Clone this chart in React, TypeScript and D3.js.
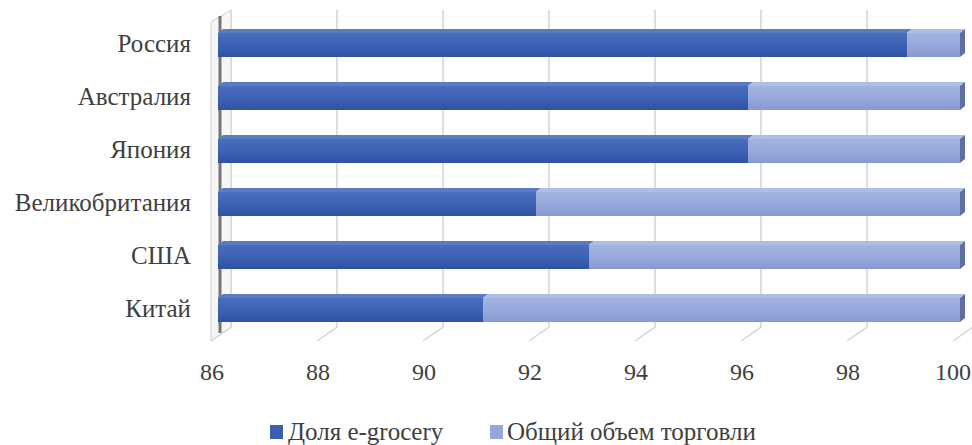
import React from "react";
import * as d3 from "d3";

const categories = ["Россия", "Австралия", "Япония", "Великобритания", "США", "Китай"];
const egroceryShare = [99, 96, 96, 92, 93, 91];
const totalTrade = [1, 4, 4, 8, 7, 9];
const ticks = [86, 88, 90, 92, 94, 96, 98, 100];
const seriesNames = ["Доля e-grocery", "Общий объем торговли"];

const W = 972;
const H = 445;
const FONT = "Liberation Serif";

export default function App() {
  const x = d3.scaleLinear().domain([86, 100]).range([211, 953]);
  const y = d3.scaleBand<string>().domain(categories).range([6.5, 348.5]).paddingInner(0.547).paddingOuter(0.5);
  const bdx = 20, bdy = -14;
  const mdx = 7;
  const tdx = 5, tdy = -4;
  const wallTop = 10;
  const floorFront = 341;

  const darkC = "#3a5fb0";
  const darkTop = "#5a7cc4";
  const lightC = "#95a8db";
  const lightTop = "#aebde3";
  const lightEnd = "#5d6f9c";

  const bh = y.bandwidth();

  return (
    <svg width={W} height={H} style={{ position: "absolute", left: 0, top: 0, display: "block", background: "#fff" }}>
      <defs>
        <linearGradient id="gDark" x1="0" y1="0" x2="0" y2="1">
          <stop offset="0" stopColor="#4a6dbd" />
          <stop offset="0.5" stopColor="#3d62b4" />
          <stop offset="1" stopColor="#2f52a3" />
        </linearGradient>
        <linearGradient id="gLight" x1="0" y1="0" x2="0" y2="1">
          <stop offset="0" stopColor="#a3b4e0" />
          <stop offset="0.5" stopColor="#97a9dc" />
          <stop offset="1" stopColor="#8799cf" />
        </linearGradient>
      </defs>
      {ticks.map((t) => (
        <polyline
          key={t}
          points={`${x(t) + bdx},${wallTop} ${x(t) + bdx},${floorFront + bdy} ${x(t)},${floorFront}`}
          fill="none"
          stroke="#d4d4d4"
          strokeWidth={1.5}
        />
      ))}
      <polygon
        points={`${x(86)},${wallTop + 12} ${x(86) + bdx},${wallTop} ${x(86) + bdx},${floorFront + bdy} ${x(86)},${floorFront}`}
        fill="#f6f6f6"
        stroke="#d0d0d0"
        strokeWidth={1}
      />
      <line x1={x(86) + 9} y1={wallTop + 6} x2={x(86) + 9} y2={floorFront - 8} stroke="#555" strokeWidth={3} opacity={0.8} />
      {categories.map((c, i) => {
        const y0 = y(c) as number;
        const a = x(86) + mdx;
        const b = x(egroceryShare[i]) + mdx;
        const e = x(egroceryShare[i] + totalTrade[i]) + mdx;
        return (
          <g key={c}>
            <polygon points={`${a},${y0} ${a + tdx},${y0 + tdy} ${b + tdx},${y0 + tdy} ${b},${y0}`} fill={darkTop} />
            <polygon points={`${b},${y0} ${b + tdx},${y0 + tdy} ${e + tdx},${y0 + tdy} ${e},${y0}`} fill={lightTop} />
            <polygon points={`${e},${y0} ${e + tdx},${y0 + tdy} ${e + tdx},${y0 + bh + tdy} ${e},${y0 + bh}`} fill={lightEnd} />
            <rect x={a} y={y0} width={b - a} height={bh} fill="url(#gDark)" />
            <rect x={b} y={y0} width={e - b} height={bh} fill="url(#gLight)" />
            <text x={191} y={y0 + bh / 2 - 2} dy="0.35em" textAnchor="end" fontFamily={FONT} fontSize={25} fill="#404040">
              {c}
            </text>
          </g>
        );
      })}
      {ticks.map((t) => (
        <text key={t} x={Math.min(x(t) + 1, W - 19)} y={372} dy="0.35em" textAnchor="middle" fontFamily={FONT} fontSize={24} fill="#404040">
          {t}
        </text>
      ))}
      <rect x={270} y={425} width={13} height={14} fill={darkC} />
      <text x={288} y={440} fontFamily={FONT} fontSize={25} fill="#404040">{seriesNames[0]}</text>
      <rect x={490} y={425} width={13} height={14} fill={lightC} />
      <text x={507} y={440} fontFamily={FONT} fontSize={25} fill="#404040">{seriesNames[1]}</text>
    </svg>
  );
}
